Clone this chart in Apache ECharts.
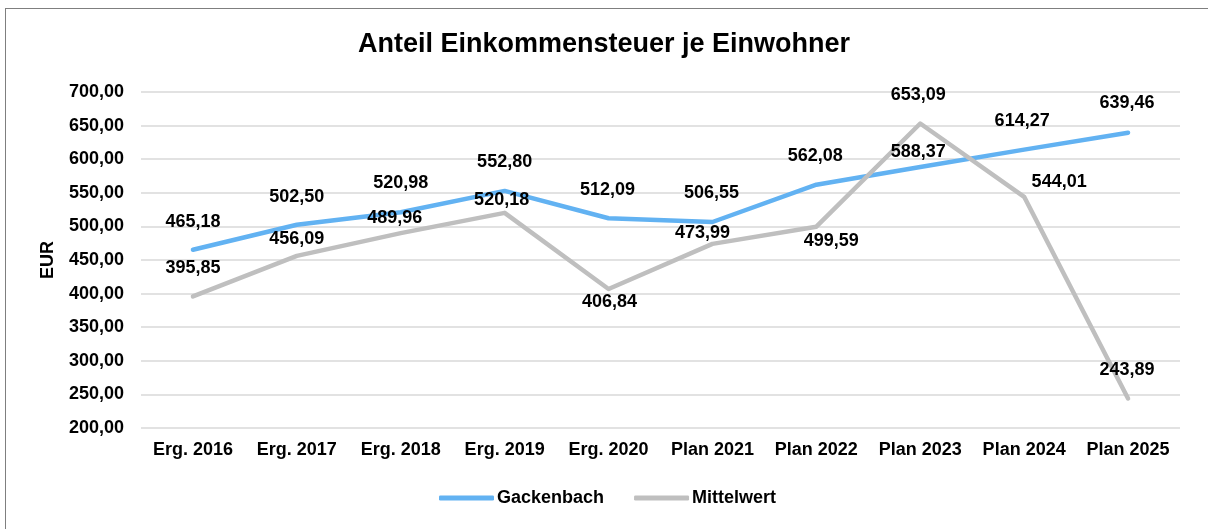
<!DOCTYPE html>
<html>
<head>
<meta charset="utf-8">
<script src="https://cdn.jsdelivr.net/npm/echarts@6/dist/echarts.min.js"></script>
<style>
  html, body { margin: 0; padding: 0; background: #fff; }
  #chart { position: absolute; left: 0; top: 0; width: 1208px; height: 529px; }
  #frame { position: absolute; left: 5px; top: 8px; width: 1210px; height: 530px;
           border-top: 1.5px solid #7f7f7f; border-left: 1.5px solid #7f7f7f; pointer-events: none; }
</style>
</head>
<body>
<div id="chart"></div>
<div id="frame"></div>
<script>
const categories = ['Erg. 2016', 'Erg. 2017', 'Erg. 2018', 'Erg. 2019', 'Erg. 2020',
    'Plan 2021', 'Plan 2022', 'Plan 2023', 'Plan 2024', 'Plan 2025'];
const gackenbach = [465.18, 502.50, 520.98, 552.80, 512.09, 506.55, 562.08, 588.37, 614.27, 639.46];
const mittelwert = [395.85, 456.09, 489.96, 520.18, 406.84, 473.99, 499.59, 653.09, 544.01, 243.89];

// where each data label sits relative to its point (px)
const gackenbachLabelShift = [[0, -28], [0, -28], [0, -29], [0, -29], [-1, -28],
    [-1, -29], [-1, -29], [-2, -15], [-2, -29], [-1, -30]];
const mittelwertLabelShift = [[0, -28], [0, -17], [-6, -15], [-3, -13], [1, 13],
    [-10, -11], [15, 14], [-2, -28], [35, -15], [-1, -28]];

const fmt = v => v.toFixed(2).replace('.', ',');
const font = '"Liberation Sans", Arial, sans-serif';

const withLabels = (values, shifts) => values.map((v, i) => ({
    value: v,
    label: { offset: shifts[i] }
}));

const myChart = echarts.init(document.getElementById('chart'));

const lineSeries = (name, color, values, shifts) => ({
    name: name,
    type: 'line',
    data: withLabels(values, shifts),
    symbol: 'circle',
    symbolSize: 0,
    showSymbol: true,
    lineStyle: { color: color, width: 4.5, cap: 'round', join: 'round' },
    itemStyle: { color: color },
    label: {
        show: true,
        position: 'inside',
        formatter: p => fmt(p.value),
        color: '#000',
        fontFamily: font,
        fontWeight: 'bold',
        fontSize: 18
    },
    emphasis: { disabled: true }
});

const option = {
    animation: false,
    backgroundColor: '#fff',
    title: {
        text: 'Anteil Einkommensteuer je Einwohner',
        left: 'center',
        top: 26,
        textStyle: { fontFamily: font, fontWeight: 'bold', fontSize: 27, color: '#000' }
    },
    legend: {
        left: 434,
        top: 484,
        icon: 'roundRect',
        itemWidth: 55,
        itemHeight: 5,
        itemGap: 30,
        textStyle: { fontFamily: font, fontWeight: 'bold', fontSize: 18, color: '#000', padding: [0, 0, 0, -2] },
        data: ['Gackenbach', 'Mittelwert']
    },
    grid: { left: 141, right: 28, top: 92, bottom: 101, containLabel: false },
    xAxis: {
        type: 'category',
        data: categories,
        boundaryGap: true,
        axisLine: { show: false },
        axisTick: { show: false },
        axisLabel: { interval: 0, margin: 13, color: '#000', fontFamily: font, fontWeight: 'bold', fontSize: 18 }
    },
    yAxis: {
        type: 'value',
        min: 200,
        max: 700,
        interval: 50,
        name: 'EUR',
        nameLocation: 'middle',
        nameRotate: 90,
        nameGap: 84,
        nameTextStyle: { color: '#000', fontFamily: font, fontWeight: 'bold', fontSize: 18 },
        axisLine: { show: false },
        axisTick: { show: false },
        axisLabel: { margin: 17, color: '#000', fontFamily: font, fontWeight: 'bold', fontSize: 18, formatter: v => fmt(v) },
        splitLine: { lineStyle: { color: '#d9d9d9', width: 1.5 } }
    },
    series: [
        lineSeries('Gackenbach', '#62b2f2', gackenbach, gackenbachLabelShift),
        lineSeries('Mittelwert', '#bfbfbf', mittelwert, mittelwertLabelShift)
    ]
};

myChart.setOption(option);
</script>
</body>
</html>
